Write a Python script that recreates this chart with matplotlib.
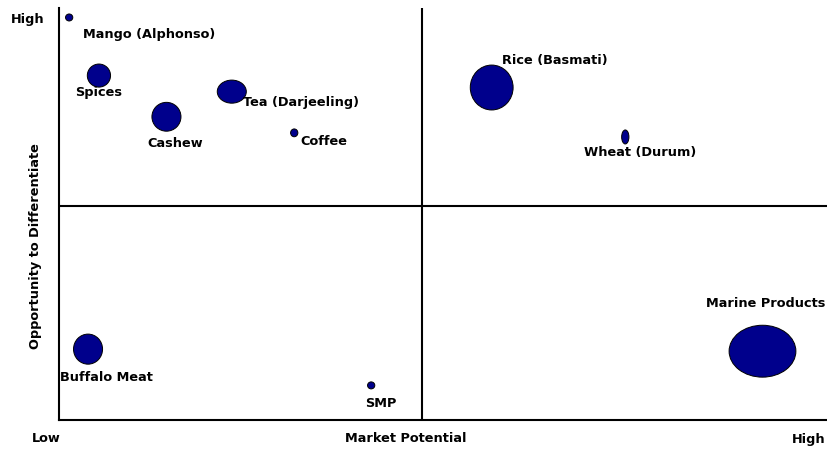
import matplotlib
matplotlib.use('Agg')
import matplotlib.pyplot as plt
from matplotlib.patches import Ellipse

BUBBLE_COLOR = '#00008C'

products = [
  'Mango (Alphonso)', 'Spices', 'Cashew', 'Tea (Darjeeling)', 'Coffee',
  'Rice (Basmati)', 'Wheat (Durum)', 'Marine Products', 'Buffalo Meat', 'SMP',
]
market_potential = [0.14, 0.55, 1.48, 2.38, 3.24, 5.96, 7.80, 9.69, 0.40, 4.30]
differentiation = [9.77, 8.36, 7.36, 7.97, 6.97, 8.07, 6.87, 1.67, 1.72, 0.84]
# bubble extent along each axis
bubble_w = [0.10, 0.32, 0.40, 0.40, 0.10, 0.59, 0.10, 0.92, 0.40, 0.10]
bubble_h = [0.17, 0.56, 0.70, 0.56, 0.19, 1.09, 0.34, 1.26, 0.73, 0.17]

x_mid = 5.0
y_mid = 5.19

# label placement (pixel offset from bubble centre, alignment)
label_pos = {
  'Mango (Alphonso)': (14, -17, 'left'),
  'Spices': (0, -17, 'center'),
  'Cashew': (9, -27, 'center'),
  'Tea (Darjeeling)': (11, -11, 'left'),
  'Coffee': (6, -9, 'left'),
  'Rice (Basmati)': (10, 27, 'left'),
  'Wheat (Durum)': (15, -16, 'center'),
  'Marine Products': (-56, 48, 'left'),
  'Buffalo Meat': (-28, -28, 'left'),
  'SMP': (10, -18, 'center'),
}

plt.rcParams['font.family'] = 'DejaVu Sans'
plt.rcParams['font.weight'] = 'bold'
plt.rcParams['font.size'] = 9.3

fig = plt.figure(figsize=(8.28, 4.49), dpi=100)
ax = fig.add_axes([59 / 828, 29 / 449, 769 / 828, 412 / 449])
ax.set_xlim(0, 769 / 72.6)
ax.set_ylim(0, 10)

for side in ['top', 'right']:
  ax.spines[side].set_visible(False)
for side in ['left', 'bottom']:
  ax.spines[side].set_linewidth(1.5)
ax.set_xticks([])
ax.set_yticks([])

ax.axvline(x_mid, color='black', linewidth=1.5)
ax.axhline(y_mid, color='black', linewidth=1.5)

for name, x, y, w, h in zip(products, market_potential, differentiation, bubble_w, bubble_h):
  ax.add_patch(Ellipse((x, y), w, h, facecolor=BUBBLE_COLOR, edgecolor='black', linewidth=0.7, zorder=3))
  dx, dy, ha = label_pos[name]
  ax.annotate(name, (x, y), xytext=(dx, dy), textcoords='offset pixels',
              ha=ha, va='center', color='black', zorder=4, annotation_clip=False)

fig.text(46 / 828, 1 - 439 / 449, 'Low', ha='center', va='center')
fig.text(406 / 828, 1 - 439 / 449, 'Market Potential', ha='center', va='center')
fig.text(826 / 828, 1 - 439 / 449, 'High', ha='right', va='center')
fig.text(28 / 828, 1 - 20 / 449, 'High', ha='center', va='center')
fig.text(36 / 828, 1 - 246 / 449, 'Opportunity to Differentiate', ha='center', va='center',
         rotation=90)

plt.savefig('out.png', dpi=100)
